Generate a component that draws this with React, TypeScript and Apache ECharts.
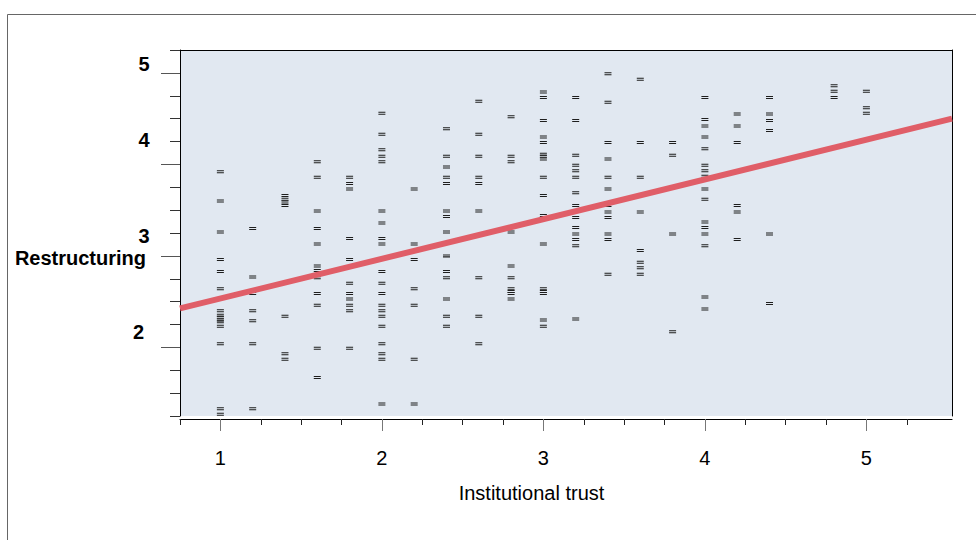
import React, { useEffect, useRef } from "react";
import * as echarts from "echarts";

// ---- Data ----
const trustLevels = [1, 1.2, 1.4, 1.6, 1.8, 2, 2.2, 2.4, 2.6, 2.8, 3, 3.2, 3.4, 3.6, 3.8, 4, 4.2, 4.4, 4.8, 5];

const restructuringByTrust = [
  [3.92, 3.6, 3.26, 2.96, 2.83, 2.64, 2.4, 2.35, 2.33, 2.3, 2.28, 2.23, 2.04, 1.33, 1.27],
  [3.3, 2.77, 2.59, 2.4, 2.29, 2.04, 1.33],
  [3.66, 3.62, 3.59, 3.55, 2.34, 1.93, 1.87],
  [4.03, 3.86, 3.49, 3.3, 3.13, 2.89, 2.84, 2.76, 2.59, 2.46, 1.99, 1.67],
  [3.86, 3.79, 3.73, 3.19, 2.96, 2.7, 2.59, 2.53, 2.46, 2.4, 1.99],
  [4.56, 4.33, 4.16, 4.09, 4.03, 3.49, 3.36, 3.19, 3.13, 2.83, 2.7, 2.59, 2.46, 2.4, 2.34, 2.23, 2.04, 1.93, 1.87, 1.38],
  [3.73, 3.13, 2.96, 2.64, 2.46, 1.87, 1.38],
  [4.39, 4.09, 3.97, 3.86, 3.79, 3.49, 3.43, 3.26, 3.0, 2.83, 2.76, 2.53, 2.34, 2.23],
  [4.69, 4.33, 4.09, 3.86, 3.79, 3.49, 2.76, 2.34, 2.04],
  [4.52, 4.09, 4.03, 3.26, 2.89, 2.76, 2.64, 2.61, 2.59, 2.53],
  [4.79, 4.73, 4.48, 4.3, 4.24, 4.11, 4.09, 4.06, 3.86, 3.66, 3.44, 3.13, 2.64, 2.61, 2.59, 2.3, 2.23],
  [4.73, 4.48, 4.1, 3.99, 3.93, 3.86, 3.69, 3.55, 3.49, 3.42, 3.31, 3.24, 3.18, 3.11, 2.31],
  [4.99, 4.68, 4.24, 4.06, 3.86, 3.73, 3.55, 3.48, 3.42, 3.24, 3.18, 2.8],
  [4.93, 4.24, 3.86, 3.48, 3.06, 2.93, 2.87, 2.8],
  [4.24, 4.1, 3.24, 2.17],
  [4.73, 4.49, 4.42, 4.3, 4.17, 3.99, 3.93, 3.87, 3.73, 3.62, 3.37, 3.31, 3.24, 3.11, 2.55, 2.42],
  [4.55, 4.42, 4.24, 3.55, 3.48, 3.18],
  [4.73, 4.55, 4.48, 4.37, 3.24, 2.48],
  [4.86, 4.8, 4.73],
  [4.8, 4.62, 4.56],
];

const fitIntercept = 2.1;
const fitSlope = 0.434;

const xMinorTicks = [0.75, 1.25, 1.5, 1.75, 2.25, 2.5, 2.75, 3.25, 3.5, 3.75, 4.25, 4.5, 4.75, 5.25];
const xMajorTicks = [1, 2, 3, 4, 5];
const yMajorTicks = [2, 3, 4, 5];
const yLabelTexts = ["5", "4", "3", "2"];

const xTitle = "Institutional trust";
const yTitle = "Restructuring";

const FONT = "'Liberation Sans', Arial, Helvetica, sans-serif";

export default function App() {
  const ref = useRef<HTMLDivElement>(null);

  useEffect(() => {
    document.body.style.margin = "0";
    if (!ref.current) return;
    const chart = echarts.init(ref.current, undefined, { renderer: "svg" });

    const xMin = 0.75;
    const xMax = 5.53;
    const yMin = 1.25;
    const yMax = 5.25;

    const points: number[][] = [];
    trustLevels.forEach((t, i) => {
      restructuringByTrust[i].forEach((v) => points.push([t, v]));
    });

    const fitLine = [
      [xMin, fitIntercept + fitSlope * xMin],
      [xMax, fitIntercept + fitSlope * xMax],
    ];

    const yLabelPos = [
      { x: 144, y: 63.5 },
      { x: 144, y: 139.5 },
      { x: 144, y: 235.5 },
      { x: 138.5, y: 332 },
    ];

    const hidden = {
      axisLine: { show: false },
      axisTick: { show: false },
      axisLabel: { show: false },
      splitLine: { show: false },
    };

    chart.setOption({
      animation: false,
      backgroundColor: "#ffffff",
      grid: {
        left: 180,
        top: 50,
        right: 24,
        bottom: 124,
        show: true,
        backgroundColor: "#E1E8F1",
        borderWidth: 0,
      },
      xAxis: [
        {
          type: "value",
          min: xMin,
          max: xMax,
          position: "bottom",
          offset: 3,
          axisLine: { show: true, lineStyle: { color: "#000", width: 1 } },
          axisTick: { show: true, customValues: xMinorTicks, length: 6, lineStyle: { color: "#222" } },
          axisLabel: { show: true, customValues: xMajorTicks, margin: 29, fontSize: 20, color: "#000", fontFamily: FONT },
          splitLine: { show: false },
          name: xTitle,
          nameLocation: "middle",
          nameGap: 64,
          nameTextStyle: { fontSize: 20, color: "#000", fontFamily: FONT, padding: [0, 69, 0, 0] },
        },
        {
          type: "value",
          min: xMin,
          max: xMax,
          position: "bottom",
          offset: 3,
          ...hidden,
          axisTick: { show: true, customValues: xMajorTicks, length: 12, lineStyle: { color: "#777" } },
        },
        {
          type: "value",
          min: xMin,
          max: xMax,
          position: "top",
          ...hidden,
          axisLine: { show: true, lineStyle: { color: "#000", width: 1 } },
        },
      ],
      yAxis: [
        {
          type: "value",
          min: yMin,
          max: yMax,
          interval: 0.25,
          position: "left",
          axisLine: { show: true, lineStyle: { color: "#000", width: 1 } },
          axisTick: { show: true, length: 10, lineStyle: { color: "#333" } },
          axisLabel: { show: false },
          splitLine: { show: false },
        },
        {
          type: "value",
          min: yMin,
          max: yMax,
          position: "left",
          ...hidden,
          axisTick: { show: true, customValues: yMajorTicks, length: 19, lineStyle: { color: "#555" } },
        },
        {
          type: "value",
          min: yMin,
          max: yMax,
          position: "right",
          ...hidden,
          axisLine: { show: true, lineStyle: { color: "#000", width: 1 } },
        },
      ],
      series: [
        {
          type: "scatter",
          xAxisIndex: 0,
          yAxisIndex: 0,
          data: points,
          symbol: "path://M0 0H7V1H0Z M0 2H7V3H0Z",
          symbolSize: [7, 3],
          itemStyle: { color: "#1e1e1e", opacity: 1 },
          z: 2,
        },
        {
          type: "line",
          xAxisIndex: 0,
          yAxisIndex: 0,
          data: fitLine,
          symbol: "none",
          lineStyle: { color: "#E05E68", width: 6 },
          z: 3,
        },
      ],
      graphic: [
        {
          type: "rect",
          shape: { x: 7.5, y: 14.5, width: 1000, height: 600 },
          style: { fill: "none", stroke: "#666", lineWidth: 1 },
          silent: true,
          z: -1,
        },
        ...yLabelTexts.map((t, i) => ({
          type: "text",
          x: yLabelPos[i].x,
          y: yLabelPos[i].y,
          style: {
            text: t,
            fontSize: 20,
            fontWeight: "bold",
            fontFamily: FONT,
            fill: "#000",
            textAlign: "center",
            textVerticalAlign: "middle",
          },
        })),
        {
          type: "text",
          x: 146,
          y: 258,
          style: {
            text: yTitle,
            fontSize: 20,
            fontWeight: "bold",
            fontFamily: FONT,
            fill: "#000",
            textAlign: "right",
            textVerticalAlign: "middle",
          },
        },
      ],
    });

    return () => chart.dispose();
  }, []);

  return <div ref={ref} style={{ width: 976, height: 540 }} />;
}
